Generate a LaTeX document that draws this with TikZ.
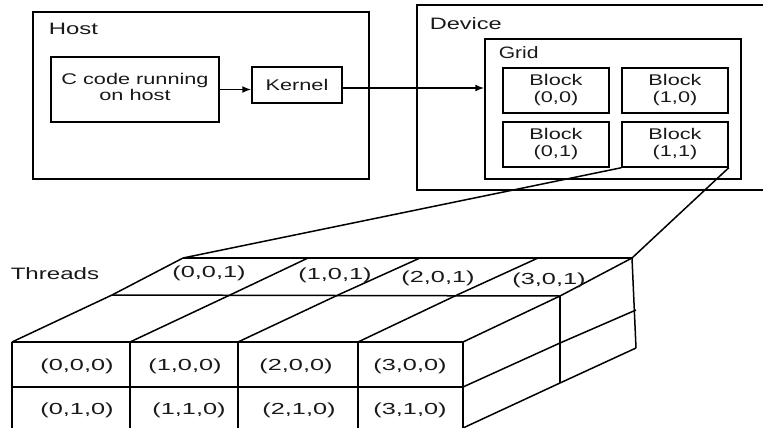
\documentclass[tikz,border=0pt]{standalone}
\usepackage{graphicx}
\usepackage{fontspec}
\setmainfont{Liberation Sans}
\usetikzlibrary{arrows.meta}
\newcommand{\stx}[2]{\scalebox{#1}[1]{#2}}
\begin{document}
\begin{tikzpicture}[x=1pt,y=-1pt,line width=1.5pt,
  box/.style={draw,rectangle,inner sep=0pt},
  title/.style={anchor=west,inner sep=0pt,font=\fontsize{16.5}{18}\selectfont,text=black!90},
  boxtxt/.style={font=\fontsize{15.5}{15}\selectfont,align=center,text=black!90},
  tuple/.style={inner sep=0pt,font=\fontsize{16}{18}\selectfont,text=black!90},
  cube/.style={line width=1.5pt,line join=round},
  arr/.style={-{Latex[length=9pt,width=7pt]}}]
\useasboundingbox (0,0) rectangle (763,428);
\clip (0,0) rectangle (763,428);
% Host
\node[box,minimum width=336pt,minimum height=167pt] (host) at (201,95.5) {};
\node[title] (hostlbl) at (48,29) {\stx{1.45}{Host}};
\node[box,boxtxt,minimum width=168pt,minimum height=65pt] (ccode) at (135,89.5)
  {\stx{1.4}{\begin{tabular}{@{}c@{}}C code running\\on host\end{tabular}}};
\node[box,boxtxt,minimum width=90pt,minimum height=36pt] (kernel) at (297,85) {\stx{1.4}{Kernel}};
% Device
\node[box,minimum width=383pt,minimum height=185pt] (device) at (608.5,97.5) {};
\node[title] (devlbl) at (429,24) {\stx{1.43}{Device}};
\node[box,minimum width=256pt,minimum height=140pt] (grid) at (613,109) {};
\node[title] (gridlbl) at (498,53) {\stx{1.28}{Grid}};
\tikzset{blk/.style={box,boxtxt,font=\fontsize{15.5}{17}\selectfont,minimum width=106pt,minimum height=45pt}}
\node[blk] (b00) at (556,90.5) {\stx{1.4}{\begin{tabular}{@{}c@{}}Block\\(0,0)\end{tabular}}};
\node[blk] (b10) at (675,90.5) {\stx{1.4}{\begin{tabular}{@{}c@{}}Block\\(1,0)\end{tabular}}};
\node[blk] (b01) at (556,144.5) {\stx{1.4}{\begin{tabular}{@{}c@{}}Block\\(0,1)\end{tabular}}};
\node[blk] (b11) at (675,144.5) {\stx{1.4}{\begin{tabular}{@{}c@{}}Block\\(1,1)\end{tabular}}};
% arrows
\draw[arr] (ccode) -- (ccode -| kernel.west);
\coordinate (kout) at ([yshift=-3pt]kernel.east);
\draw[arr] (kout) -- (kout -| grid.west);
% cuboid coordinates
\coordinate (f0) at (12,342);  \coordinate (f1) at (130,342); \coordinate (f2) at (238,342);
\coordinate (f3) at (358,342); \coordinate (f4) at (463,342);
\coordinate (m0) at (112,295); \coordinate (m1) at (230,295); \coordinate (m2) at (338,295);
\coordinate (m3) at (457,295); \coordinate (m4) at (560,296);
\coordinate (k0) at (183,258); \coordinate (k1) at (308,258); \coordinate (k2) at (420,258);
\coordinate (k3) at (538,258); \coordinate (k4) at (632,258);
\coordinate (g0) at (12,387);  \coordinate (g4) at (463,387);
\coordinate (h4) at (463,428);
\coordinate (rm1) at (560,343); \coordinate (rm2) at (636,310);
\coordinate (rb1) at (560,383); \coordinate (rb2) at (636,348);
% top face
\draw[cube] (k0) -- (k4);
\draw[cube] (m0) -- (m4);
\draw[cube] (f0) -- (f4);
\foreach \i in {0,...,4} {\draw[cube] (f\i) -- (m\i) -- (k\i);}
% front face
\foreach \i in {0,...,4} {\draw[cube] (f\i) -- ++(0,92);}
\draw[cube] (g0) -- (g4);
% right face
\draw[cube] (m4) -- (rb1);
\draw[cube] (k4) -- (rb2);
\draw[cube] (g4) -- (rm1) -- (rm2);
\draw[cube] (h4) -- (rb1) -- (rb2);
% connectors from block (1,1)
\draw[cube] (b11.south west) -- (k0);
\draw[cube] (b11.south east) -- (k4);
% labels
\node[title] (thr) at (10,274) {\stx{1.46}{Threads}};
\node[tuple] (t001) at (209,273) {\stx{1.58}{(0,0,1)}};
\node[tuple] (t101) at (335,275) {\stx{1.58}{(1,0,1)}};
\node[tuple] (t201) at (438,278) {\stx{1.58}{(2,0,1)}};
\node[tuple] (t301) at (549,280) {\stx{1.58}{(3,0,1)}};
\node[tuple] (t000) at (77,366) {\stx{1.58}{(0,0,0)}};
\node[tuple] (t100) at (185,366) {\stx{1.58}{(1,0,0)}};
\node[tuple] (t200) at (296,366) {\stx{1.58}{(2,0,0)}};
\node[tuple] (t300) at (410,366) {\stx{1.58}{(3,0,0)}};
\node[tuple] (t010) at (77,410) {\stx{1.58}{(0,1,0)}};
\node[tuple] (t110) at (189,410) {\stx{1.58}{(1,1,0)}};
\node[tuple] (t210) at (299,410) {\stx{1.58}{(2,1,0)}};
\node[tuple] (t310) at (410,410) {\stx{1.58}{(3,1,0)}};
\end{tikzpicture}
\end{document}
